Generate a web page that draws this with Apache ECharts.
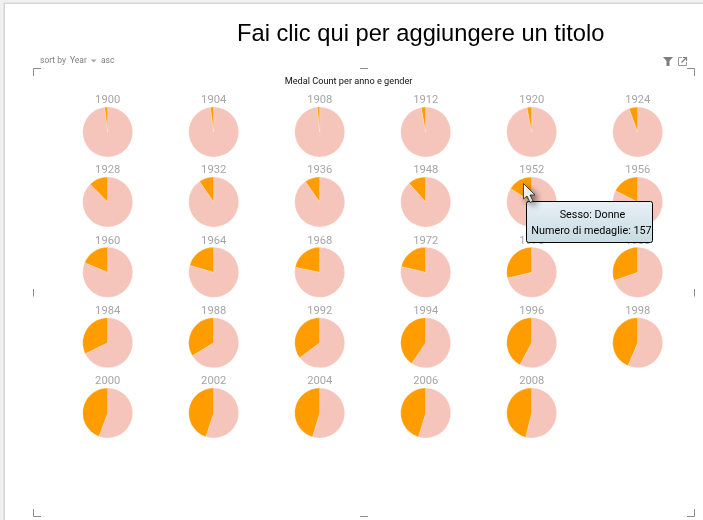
<!DOCTYPE html>
<html>
<head>
<meta charset="utf-8">
<style>html,body{margin:0;padding:0;background:#fff}#c{width:703px;height:520px}</style>
<script src="https://cdn.jsdelivr.net/npm/echarts@6/dist/echarts.min.js"></script>
</head>
<body>
<div id="c"></div>
<script>
// Values, as share of medals (percent)
const years = [1900,1904,1908,1912,1920,1924,1928,1932,1936,1948,1952,1956,1960,1964,1968,1972,1976,1980,1984,1988,1992,1994,1996,1998,2000,2002,2004,2006,2008];
const womenShare = [1.9,2.1,1.5,2.8,3.0,5.6,12.4,9.6,9.7,11.6,16.0,17.5,18.7,20.5,21.7,21.3,28.7,30.3,32.2,33.6,35.3,40.5,42.2,43.6,44.3,44.9,45.3,45.3,46.1];
const menShare = [98.1,97.9,98.5,97.2,97.0,94.4,87.6,90.4,90.3,88.4,84.0,82.5,81.3,79.5,78.3,78.7,71.3,69.7,67.8,66.4,64.7,59.5,57.8,56.4,55.7,55.1,54.7,54.7,53.9];
const seriesNames = ['Uomini','Donne'];
const chartTitle = 'Fai clic qui per aggiungere un titolo';
const subTitle = 'Medal Count per anno e gender';
const tooltipLines = ['Sesso: Donne','Numero di medaglie: 157'];

const COLS = 6, X0 = 107.7, DX = 106, ROW_Y = [132,202,272.3,342.8,413], R = 25;
const PINK = '#f5c4ba', ORANGE = '#ff9c00', GREY = '#a6a6a6', MARK = '#8c8c8c';
const FONT = 'Roboto,"Noto Sans",sans-serif';

const series = [], titles = [];
years.forEach((y,i)=>{
  const cx = X0 + DX*(i%COLS), cy = ROW_Y[Math.floor(i/COLS)];
  series.push({
    type:'pie', name:String(y), center:[cx,cy], radius:[0,R], startAngle:90, clockwise:true,
    silent:true, animation:false, label:{show:false}, labelLine:{show:false},
    emphasis:{disabled:true}, minAngle:0,
    itemStyle:{borderColor:'rgba(255,255,255,0.45)',borderWidth:0.5},
    data:[
      {name:seriesNames[0],value:menShare[i],itemStyle:{color:PINK}},
      {name:seriesNames[1],value:womenShare[i],itemStyle:{color:ORANGE}}
    ]
  });
  titles.push({text:String(y),left:cx,top:cy-R-13.5,textAlign:'center',padding:0,
    textStyle:{color:GREY,fontSize:11.2,fontWeight:'normal',fontFamily:FONT,lineHeight:14}});
});

const line = (pts,color,w)=>({type:'polyline',z:50,silent:true,shape:{points:pts},style:{stroke:color||MARK,lineWidth:w||1,fill:null}});
const txt = (x,y,t,size,color,align,fam)=>({type:'text',z:60,silent:true,x:x,y:y,style:{text:t,fontSize:size,fill:color,align:align||'left',verticalAlign:'middle',fontFamily:fam||FONT}});

const graphic = [
  {type:'rect',z:1,silent:true,shape:{x:0,y:0,width:5,height:520},style:{fill:'#f0f0f0'}},
  {type:'rect',z:2,silent:true,shape:{x:3.5,y:3,width:1.5,height:517},style:{fill:'#d6d6d6'}},
  {type:'rect',z:2,silent:true,shape:{x:3.5,y:2.5,width:700,height:1.5},style:{fill:'#d6d6d6'}},
  {type:'rect',z:1,silent:true,shape:{x:0,y:0,width:703,height:2.5},style:{fill:'#f0f0f0'}},
  // selection corners and midpoints
  line([[33.5,76],[33.5,68.5],[41,68.5]]),
  line([[687,68.5],[694.5,68.5],[694.5,76]]),
  line([[33.5,509],[33.5,516.5],[41,516.5]]),
  line([[687,516.5],[694.5,516.5],[694.5,509]]),
  line([[360,68.5],[368,68.5]]),
  line([[360,516.5],[368,516.5]]),
  line([[33.5,289],[33.5,296.5]]),
  line([[694.5,289],[694.5,296.5]]),
  // titles
  txt(237,34.5,chartTitle,23.7,'#000','left','"Liberation Sans",Arial,sans-serif'),
  txt(348.5,81.5,subTitle,9.2,'#111','center'),
  // sort control
  txt(40,61,'sort by',8.5,'#7f7f7f'),
  txt(70,61,'Year',8.5,'#7f7f7f'),
  txt(101,61,'asc',8.5,'#7f7f7f'),
  {type:'polygon',z:60,silent:true,shape:{points:[[91,59.5],[96.5,59.5],[93.75,62.5]]},style:{fill:'#a6a6a6'}},
  // filter and expand icons
  {type:'polygon',z:60,silent:true,shape:{points:[[663,57],[673,57],[669.5,61],[669.5,66],[666.5,66],[666.5,61]]},style:{fill:'#7f7f7f'}},
  line([[682,57.5],[678.5,57.5],[678.5,65.5],[686.5,65.5],[686.5,62]],'#9a9a9a'),
  line([[681.5,62.5],[686.5,57.5]],'#7f7f7f',1.2),
  line([[683,57.5],[686.5,57.5],[686.5,61]],'#7f7f7f',1.2),
  // tooltip
  {type:'rect',z:70,silent:true,shape:{x:526.5,y:201.5,width:126,height:41,r:2},
    style:{stroke:'#000',lineWidth:1,fill:{type:'linear',x:0,y:0,x2:0,y2:1,colorStops:[{offset:0,color:'#e9f1f7'},{offset:1,color:'#c6dbe1'}]}}},
  {type:'text',z:71,silent:true,x:592.5,y:215,style:{text:tooltipLines[0],fontSize:10.8,fill:'#000',align:'center',verticalAlign:'middle',fontFamily:FONT}},
  {type:'text',z:71,silent:true,x:591.5,y:231,style:{text:tooltipLines[1],fontSize:10.8,fill:'#000',align:'center',verticalAlign:'middle',fontFamily:FONT}},
  // mouse pointer
  {type:'polygon',z:80,silent:true,shape:{points:[[523.5,183.5],[523.5,199],[527,196],[530,202.5],[533,201],[530,195],[535,195]]},
    style:{fill:'#fff',stroke:'#222',lineWidth:0.8,shadowBlur:6,shadowColor:'rgba(0,0,0,0.55)',shadowOffsetX:3,shadowOffsetY:3}}
];

const chart = echarts.init(document.getElementById('c'),null,{renderer:'canvas'});
chart.setOption({animation:false,backgroundColor:'#fff',tooltip:{show:false},title:titles,series:series,graphic:graphic});
</script>
</body>
</html>
